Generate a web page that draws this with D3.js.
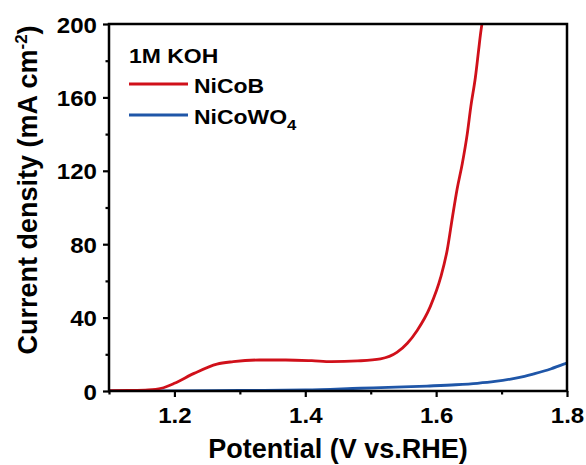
<!DOCTYPE html>
<html>
<head>
<meta charset="utf-8">
<script src="https://cdn.jsdelivr.net/npm/d3@7"></script>
<style>
  body { margin: 0; background: #fff; }
  text { font-family: "Liberation Sans", Arial, sans-serif; font-weight: bold; fill: #000; }
</style>
</head>
<body>
<div id="chart"></div>
<script>
// Daten
const nicobV = [1.10, 1.13, 1.16, 1.18, 1.20, 1.23, 1.265, 1.29, 1.33, 1.37, 1.41, 1.44, 1.48, 1.515, 1.54, 1.556, 1.571, 1.591, 1.607, 1.617, 1.625, 1.632, 1.640, 1.6475, 1.653, 1.660, 1.665, 1.668, 1.670];
const nicobJ = [0.2, 0.3, 0.6, 1.5, 4.2, 9.6, 14.7, 16.0, 16.9, 16.9, 16.5, 16.0, 16.4, 17.5, 21, 26, 33, 46, 62, 77, 95, 110, 124, 140, 155, 171, 186, 195, 200];
const nicowo4V = [1.10, 1.20, 1.30, 1.40, 1.484, 1.55, 1.586, 1.63, 1.663, 1.69, 1.714, 1.735, 1.749, 1.775, 1.794, 1.80];
const nicowo4J = [0, 0.1, 0.3, 0.6, 1.5, 2.2, 2.7, 3.4, 4.2, 5.2, 6.5, 8.0, 9.3, 12.0, 14.5, 15.2];
const xTicks = [1.2, 1.4, 1.6, 1.8];
const xMinor = [1.1, 1.3, 1.5, 1.7];
const yTicks = [0, 40, 80, 120, 160, 200];
const yMinor = [20, 60, 100, 140, 180];

const margin = {top: 24, right: 19, bottom: 74, left: 109};
const W = 586, H = 465;
const width = W - margin.left - margin.right;
const height = H - margin.top - margin.bottom;
const sx = 1.12; // Schrift im Original etwas breiter

const svg = d3.select("#chart").append("svg")
    .attr("width", W).attr("height", H);
const g = svg.append("g").attr("transform", `translate(${margin.left},${margin.top})`);

const x = d3.scaleLinear().domain([1.1, 1.8]).range([0, width]);
const y = d3.scaleLinear().domain([0, 200]).range([height, 0]);

g.append("clipPath").attr("id", "clip")
  .append("rect").attr("width", width).attr("height", height);

// Achsen
const xAxis = g.append("g").attr("transform", `translate(0,${height})`)
    .call(d3.axisBottom(x).tickValues(xTicks).tickFormat(d3.format(".1f")).tickSize(6).tickPadding(11));
const xMin = g.append("g").attr("transform", `translate(0,${height})`)
    .call(d3.axisBottom(x).tickValues(xMinor).tickFormat("").tickSize(3.5));
const yAxis = g.append("g")
    .call(d3.axisLeft(y).tickValues(yTicks).tickSize(6).tickPadding(6));
const yMin = g.append("g")
    .call(d3.axisLeft(y).tickValues(yMinor).tickFormat("").tickSize(3.5));

[xAxis, xMin, yAxis, yMin].forEach(a => {
  a.select(".domain").remove();
  a.selectAll("line").attr("stroke", "#000").attr("stroke-width", 2.2);
  a.selectAll("text").style("font-size", "21.5px");
});
xAxis.selectAll("text").attr("transform", `scale(${sx},1)`);
yAxis.selectAll("text").attr("x", -12 / sx).attr("dy", "0.38em").attr("transform", `scale(${sx},1)`);

// Kurven
const line = d3.line().x(d => x(d[0])).y(d => y(d[1])).curve(d3.curveMonotoneX);
const series = [
  {v: nicowo4V, j: nicowo4J, color: "#1f56a8"},
  {v: nicobV, j: nicobJ, color: "#d0101a"}
];
g.append("g").attr("clip-path", "url(#clip)")
  .selectAll("path").data(series).join("path")
  .attr("d", s => line(s.v.map((v, i) => [v, s.j[i]])))
  .attr("fill", "none").attr("stroke", s => s.color).attr("stroke-width", 2.8);

// Rahmen
g.append("rect").attr("width", width).attr("height", height)
  .attr("fill", "none").attr("stroke", "#000").attr("stroke-width", 2.5);

// Achsentitel
svg.append("text").attr("x", margin.left + width / 2).attr("y", 458)
  .attr("text-anchor", "middle").style("font-size", "27px")
  .text("Potential (V vs.RHE)");

const yt = svg.append("text").attr("transform", "translate(37,190) rotate(-90)")
  .attr("text-anchor", "middle").style("font-size", "27px");
yt.append("tspan").text("Current density (mA cm");
yt.append("tspan").attr("dy", -10).style("font-size", "17px").text("-2");
yt.append("tspan").attr("dy", 10).text(")");

// Legende
svg.append("text").attr("transform", `translate(129,62.5) scale(${sx},1)`)
  .style("font-size", "20.5px").text("1M KOH");
const legend = [
  {name: "NiCoB", sub: null, color: "#d0101a", y: 84},
  {name: "NiCoWO", sub: "4", color: "#1f56a8", y: 115}
];
legend.forEach(l => {
  svg.append("line").attr("x1", 129).attr("x2", 188).attr("y1", l.y).attr("y2", l.y)
    .attr("stroke", l.color).attr("stroke-width", 2.8);
  const t = svg.append("text").attr("transform", `translate(194,${l.y + 8.5}) scale(${sx},1)`)
    .style("font-size", "20.5px");
  t.append("tspan").text(l.name);
  if (l.sub) t.append("tspan").attr("dy", 6).style("font-size", "15px").text(l.sub);
});
</script>
</body>
</html>
